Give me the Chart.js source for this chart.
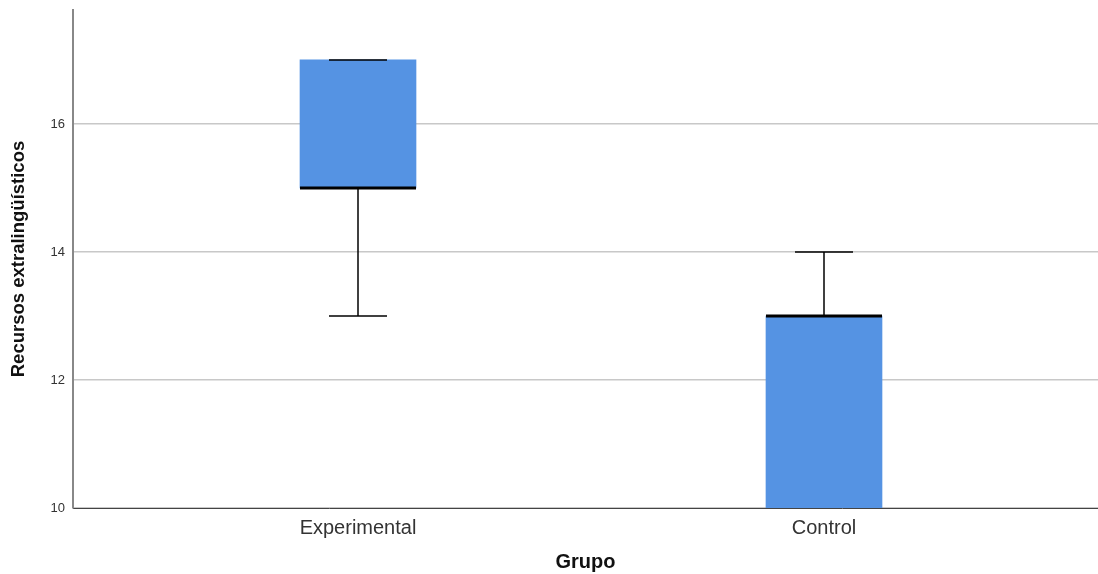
<!DOCTYPE html>
<html><head><meta charset="utf-8">
<script src="https://cdn.jsdelivr.net/npm/chart.js@4/dist/chart.umd.min.js"></script>
<style>html,body{margin:0;padding:0;background:#fff}#wrap{width:1098px;height:574px}</style>
</head><body><div id="wrap"><canvas id="c"></canvas></div>
<script>
const categories = ['Experimental', 'Control'];
const mins = [13, 10];
const q1s = [15, 10];
const medians = [15, 13];
const q3s = [17, 13];
const maxs = [17, 14];
const yTicks = [10, 12, 14, 16];

const boxColor = '#5593e3';
const BOX_W = 116, CAP_W = 58;

const whiskerPlugin = {
  id: 'whiskers',
  afterDatasetsDraw(chart) {
    const ctx = chart.ctx, xs = chart.scales.x, ys = chart.scales.y, a = chart.chartArea;
    ctx.save();
    ctx.beginPath(); ctx.rect(a.left, a.top - 2, a.right - a.left, a.bottom - a.top + 2); ctx.clip();
    categories.forEach((c, i) => {
      const cx = Math.round(xs.getPixelForValue(i));
      ctx.strokeStyle = '#000'; ctx.lineWidth = 1.5;
      const seg = (v1, v2) => {
        if (v1 === v2) return;
        ctx.beginPath(); ctx.moveTo(cx, ys.getPixelForValue(v1)); ctx.lineTo(cx, ys.getPixelForValue(v2)); ctx.stroke();
      };
      seg(q1s[i], mins[i]); seg(q3s[i], maxs[i]);
      [mins[i], maxs[i]].forEach(v => {
        const py = ys.getPixelForValue(v);
        if (py >= a.bottom - 0.5) return;
        ctx.beginPath(); ctx.moveTo(cx - CAP_W / 2, py); ctx.lineTo(cx + CAP_W / 2, py); ctx.stroke();
      });
      const my = ys.getPixelForValue(medians[i]);
      ctx.lineWidth = 3;
      ctx.beginPath(); ctx.moveTo(cx - BOX_W / 2, my); ctx.lineTo(cx + BOX_W / 2, my); ctx.stroke();
    });
    ctx.restore();
  }
};

new Chart(document.getElementById('c'), {
  type: 'bar',
  data: {
    datasets: [{
      data: categories.map((c, i) => ({ x: i, y: [q1s[i], q3s[i]] })),
      backgroundColor: boxColor,
      borderWidth: 0,
      barThickness: BOX_W
    }]
  },
  options: {
    responsive: true, maintainAspectRatio: false, animation: false,
    layout: { padding: { top: 10, right: 0, left: 0, bottom: 0 } },
    plugins: { legend: { display: false }, tooltip: { enabled: false } },
    scales: {
      x: {
        type: 'linear', min: -0.6116, max: 1.588, offset: false,
        afterBuildTicks: s => { s.ticks = categories.map((c, i) => ({ value: i })); },
        afterFit: s => { s.height = 66; s.paddingLeft = 0; s.paddingRight = 0; },
        grid: { display: false, drawTicks: false },
        border: { color: '#444', width: 1 },
        ticks: { callback: v => categories[v], font: { family: 'Liberation Sans, Arial', size: 20 }, color: '#333', padding: 8, maxRotation: 0 },
        title: { display: true, text: 'Grupo', font: { family: 'Liberation Sans, Arial', size: 20, weight: 'bold' }, color: '#111', padding: { top: 4, bottom: 0 } }
      },
      y: {
        min: 10, max: 17.78,
        afterBuildTicks: s => { s.ticks = yTicks.map(v => ({ value: v })); },
        afterFit: s => { s.width = 73; s.paddingTop = 0; s.paddingBottom = 0; },
        grid: { color: '#c8c8c8', lineWidth: 1.5, drawTicks: false },
        border: { color: '#888', width: 2 },
        ticks: { font: { family: 'Liberation Sans, Arial', size: 13 }, color: '#333', padding: 8 },
        title: { display: true, text: 'Recursos extralingüísticos', font: { family: 'Liberation Sans, Arial', size: 18.5, weight: 'bold' }, color: '#111', padding: { top: 8, bottom: 0 } }
      }
    }
  },
  plugins: [whiskerPlugin]
});
</script></body></html>
